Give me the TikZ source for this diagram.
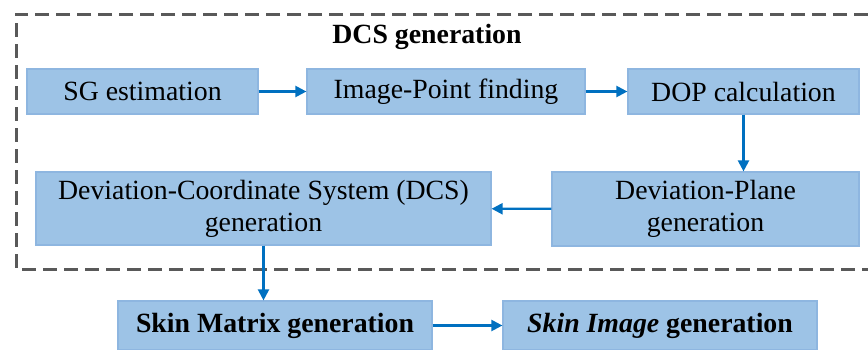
\documentclass[tikz,border=0pt]{standalone}
\usepackage{fontspec}
\setmainfont{Liberation Serif}
\usetikzlibrary{arrows.meta}
\definecolor{boxblue}{HTML}{9DC3E6}
\definecolor{boxline}{HTML}{8EB6E0}
\definecolor{flowblue}{HTML}{0070C0}
\definecolor{framegray}{HTML}{595959}
\tikzset{every node/.style={font=\fontsize{13.9}{16}\selectfont, inner sep=0pt},
  stage/.style={draw=boxline, fill=boxblue, line width=0.6pt, align=center},
  flow/.style={draw=flowblue, line width=1.1pt, -{Triangle[length=5.5pt,width=5.5pt]}}}

\begin{document}
\begin{tikzpicture}[x=0.5pt,y=-0.5pt]
  \useasboundingbox (0,0) rectangle (868,349);
  % dashed frame round the DCS part (its right side lies outside the picture)
  \draw[framegray, line width=1.5pt, dash pattern=on 7pt off 3.5pt] (868,14) -- (16,14) -- (16,269) -- (868,269);
  \node[font=\fontsize{13.9}{16}\selectfont\bfseries] (title) at (427,37) {DCS generation};
  % first row
  \node[stage, minimum width=115.5pt, minimum height=22.5pt] (sg)  at (142.5,91.5) {SG estimation};
  \node[stage, minimum width=139pt,   minimum height=22.5pt] (ip)  at (446,91.5)   {Image-Point finding};
  \node[stage, minimum width=115.5pt, minimum height=22.5pt] (dop) at (743.5,91.5) {DOP calculation};
  % second row
  \node[stage, minimum width=153.5pt, minimum height=37pt] (dp)  at (705.5,209) {Deviation-Plane\\generation};
  \node[stage, minimum width=227.5pt, minimum height=36.5pt] (dcs) at (263.5,208.5) {Deviation-Coordinate System (DCS)\\generation};
  % outputs
  \node[stage, minimum width=157pt, minimum height=24.5pt, font=\fontsize{13.9}{16}\selectfont\bfseries] (sm) at (275,325.5) {Skin Matrix generation};
  \node[stage, minimum width=157pt, minimum height=24.5pt, font=\fontsize{13.9}{16}\selectfont\bfseries] (si) at (660,325.5) {\textit{Skin Image} generation};
  % connectors
  \draw[flow] (sg) -- (ip);
  \draw[flow] (ip) -- (dop);
  \draw[flow] (dop) -- (dop |- dp.north);
  \draw[flow] (dp) -- (dcs);
  \draw[flow] (dcs.south) -- (dcs.south |- sm.north);
  \draw[flow] (sm) -- (si);
\end{tikzpicture}
\end{document}
